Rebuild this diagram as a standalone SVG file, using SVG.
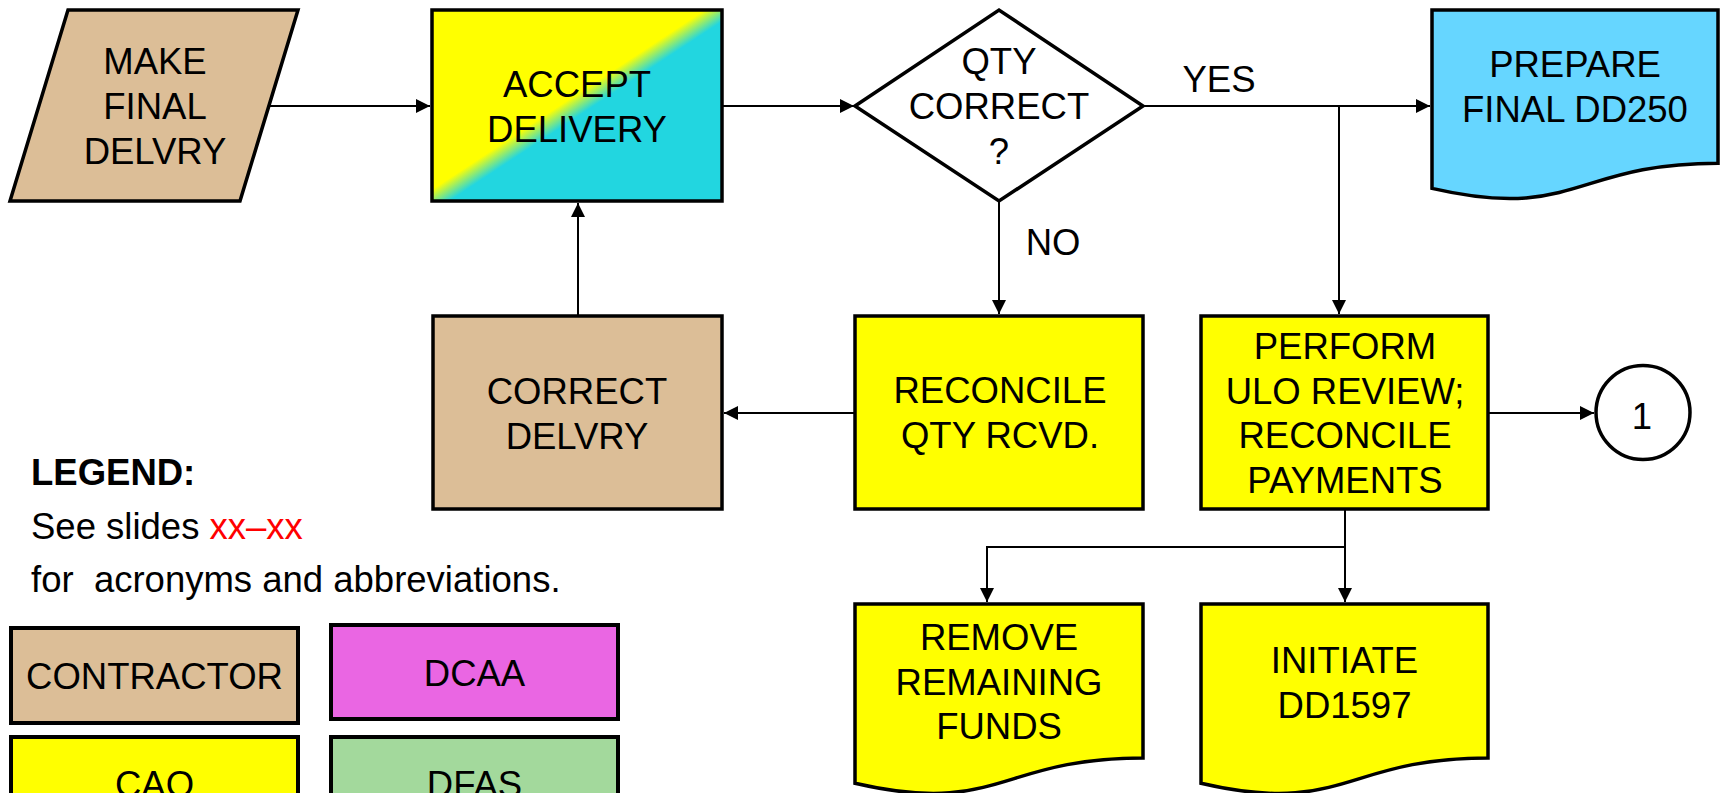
<svg xmlns="http://www.w3.org/2000/svg" width="1723" height="793" viewBox="0 0 1723 793">
  <style>
    .node { stroke: #000; stroke-width: 3.5; stroke-linejoin: miter; }
    .legend-box { stroke: #000; stroke-width: 4; }
    .tan { fill: #DCBE97; }
    .yellow { fill: #FFFF00; }
    .blue { fill: #66D6FF; }
    .magenta { fill: #EA66E3; }
    .green { fill: #A3D99C; }
    .white { fill: #FFFFFF; }
    .label { font-family: "Liberation Sans", Arial, sans-serif; font-size: 36.5px; fill: #000; text-anchor: middle; }
    .plain { font-family: "Liberation Sans", Arial, sans-serif; font-size: 36.5px; fill: #000; }
    .bold { font-weight: bold; }
    .red { fill: #FF0000; }
    .conn { fill: none; stroke: #000; stroke-width: 2; }
  </style>
  <defs>
    <marker id="arrow" markerUnits="userSpaceOnUse" markerWidth="14" markerHeight="14" refX="14" refY="7" orient="auto">
      <path d="M0,0 L14,7 L0,14 Z" fill="#000"/>
    </marker>
    <linearGradient id="acceptFill" x1="0" y1="0" x2="1" y2="1">
      <stop offset="0.47" stop-color="#FFFF00"/>
      <stop offset="0.53" stop-color="#22D6E0"/>
    </linearGradient>
  </defs>

  <rect width="1723" height="793" fill="#FFFFFF"/>

  <!-- connectors -->
  <g id="connectors">
    <path class="conn" d="M269,106 H430" marker-end="url(#arrow)"/>
    <path class="conn" d="M722,106 H854" marker-end="url(#arrow)"/>
    <path class="conn" d="M1143,106 H1430" marker-end="url(#arrow)"/>
    <path class="conn" d="M1339,106 V314" marker-end="url(#arrow)"/>
    <path class="conn" d="M999,201 V314" marker-end="url(#arrow)"/>
    <path class="conn" d="M855,413 H724" marker-end="url(#arrow)"/>
    <path class="conn" d="M578,316 V203" marker-end="url(#arrow)"/>
    <path class="conn" d="M1488,413 H1594" marker-end="url(#arrow)"/>
    <path class="conn" d="M1345,509 V602" marker-end="url(#arrow)"/>
    <path class="conn" d="M1345,547 H987 V602" marker-end="url(#arrow)"/>
  </g>

  <!-- branch labels -->
  <g id="edge-labels">
    <text class="label" x="1219" y="92">YES</text>
    <text class="label" x="1053" y="255">NO</text>
  </g>

  <g id="make-final-delivery">
    <path class="node tan" d="M68,10 H298 L240,201 H10 Z"/>
    <text class="label" x="155" y="74">MAKE</text>
    <text class="label" x="155" y="119">FINAL</text>
    <text class="label" x="155" y="164">DELVRY</text>
  </g>

  <g id="accept-delivery">
    <rect class="node" x="432" y="10" width="290" height="191" fill="url(#acceptFill)"/>
    <text class="label" x="577" y="97">ACCEPT</text>
    <text class="label" x="577" y="142">DELIVERY</text>
  </g>

  <g id="qty-correct">
    <path class="node white" d="M855,106 L999,10 L1143,106 L999,201 Z"/>
    <text class="label" x="999" y="74">QTY</text>
    <text class="label" x="999" y="119">CORRECT</text>
    <text class="label" x="999" y="164">?</text>
  </g>

  <g id="prepare-final-dd250">
    <path class="node blue" d="M1432,10 H1718 V163.2 C1575,163.2 1575,221.5 1432,188.4 Z"/>
    <text class="label" x="1575" y="77">PREPARE</text>
    <text class="label" x="1575" y="122">FINAL DD250</text>
  </g>

  <g id="correct-delivery">
    <rect class="node tan" x="433" y="316" width="289" height="193"/>
    <text class="label" x="577" y="404">CORRECT</text>
    <text class="label" x="577" y="449">DELVRY</text>
  </g>

  <g id="reconcile-qty">
    <rect class="node yellow" x="855" y="316" width="288" height="193"/>
    <text class="label" x="1000" y="403">RECONCILE</text>
    <text class="label" x="1000" y="448">QTY RCVD.</text>
  </g>

  <g id="perform-ulo-review">
    <rect class="node yellow" x="1201" y="316" width="287" height="193"/>
    <text class="label" x="1345" y="359">PERFORM</text>
    <text class="label" x="1345" y="403.5">ULO REVIEW;</text>
    <text class="label" x="1345" y="448">RECONCILE</text>
    <text class="label" x="1345" y="492.5">PAYMENTS</text>
  </g>

  <g id="connector-1">
    <circle class="node white" cx="1643" cy="412.5" r="47"/>
    <text class="label" x="1642" y="429">1</text>
  </g>

  <g id="remove-remaining-funds">
    <path class="node yellow" d="M855,604 H1143 V758 C999,758 999,816.6 855,783.3 Z"/>
    <text class="label" x="999" y="650">REMOVE</text>
    <text class="label" x="999" y="694.5">REMAINING</text>
    <text class="label" x="999" y="739">FUNDS</text>
  </g>

  <g id="initiate-dd1597">
    <path class="node yellow" d="M1201,604 H1488 V758 C1344.5,758 1344.5,816.6 1201,783.3 Z"/>
    <text class="label" x="1344.5" y="673">INITIATE</text>
    <text class="label" x="1344.5" y="718">DD1597</text>
  </g>

  <!-- legend -->
  <g id="legend">
    <text class="plain bold" x="31" y="485">LEGEND:</text>
    <text class="plain" x="31" y="539">See slides <tspan class="red">xx–xx</tspan></text>
    <text class="plain" x="31" y="592" xml:space="preserve">for  acronyms and abbreviations.</text>

    <g id="legend-contractor">
      <rect class="legend-box tan" x="11" y="628" width="287" height="95"/>
      <text class="label" x="154.5" y="689">CONTRACTOR</text>
    </g>
    <g id="legend-dcaa">
      <rect class="legend-box magenta" x="331" y="625" width="287" height="94"/>
      <text class="label" x="474.5" y="686">DCAA</text>
    </g>
    <g id="legend-cao">
      <rect class="legend-box yellow" x="11" y="737" width="287" height="95"/>
      <text class="label" x="154.5" y="797">CAO</text>
    </g>
    <g id="legend-dfas">
      <rect class="legend-box green" x="331" y="737" width="287" height="95"/>
      <text class="label" x="474.5" y="797">DFAS</text>
    </g>
  </g>
</svg>
